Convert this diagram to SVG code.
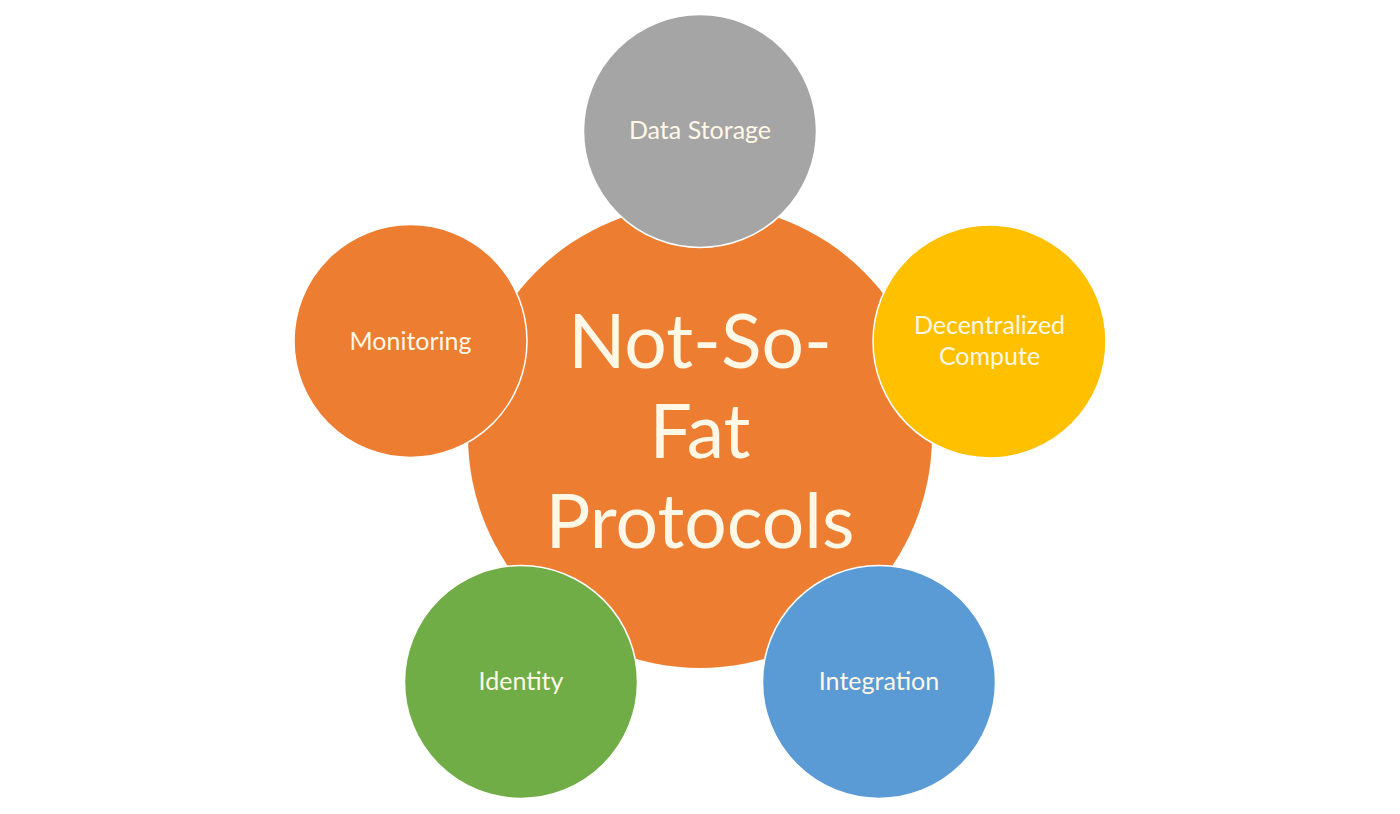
<svg xmlns="http://www.w3.org/2000/svg" width="1400" height="814" viewBox="0 0 1400 814">
  <style>
    .ring { stroke: #FFFFFF; stroke-width: 1.5; }
    .label { font-family: Lato, "Open Sans", "Liberation Sans", sans-serif; fill: #FFF8E6; text-anchor: middle; font-size: 25px; }
    .title { font-family: Lato, "Open Sans", "Liberation Sans", sans-serif; fill: #FFF8E6; text-anchor: middle; font-size: 75px; }
  </style>
  <rect width="1400" height="814" fill="#FFFFFF"/>

  <!-- hub -->
  <g id="hub">
    <circle cx="700" cy="436" r="232" fill="#ED7D31"/>
    <text class="title" x="700" y="368">Not-So-</text>
    <text class="title" x="700" y="458">Fat</text>
    <text class="title" x="700" y="548">Protocols</text>
  </g>

  <!-- no connector lines: satellites overlap the hub -->
  <g id="connectors"></g>

  <g id="data-storage">
    <circle class="ring" cx="700" cy="131" r="116.5" fill="#A5A5A5"/>
    <text class="label" x="700" y="139">Data Storage</text>
  </g>

  <g id="decentralized-compute">
    <circle class="ring" cx="989.5" cy="341.5" r="116.5" fill="#FFC000"/>
    <text class="label" x="989.5" y="334">Decentralized</text>
    <text class="label" x="989.5" y="365">Compute</text>
  </g>

  <g id="integration">
    <circle class="ring" cx="879" cy="682" r="116.5" fill="#5B9BD5"/>
    <text class="label" x="879" y="690">Integration</text>
  </g>

  <g id="identity">
    <circle class="ring" cx="521" cy="682" r="116.5" fill="#70AD47"/>
    <text class="label" x="521" y="690">Identity</text>
  </g>

  <g id="monitoring">
    <circle class="ring" cx="410.5" cy="341" r="116.5" fill="#ED7D31"/>
    <text class="label" x="410.5" y="350">Monitoring</text>
  </g>
</svg>
